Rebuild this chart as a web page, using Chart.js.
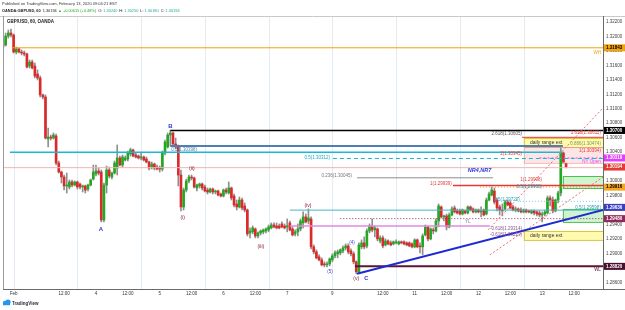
<!DOCTYPE html>
<html><head><meta charset="utf-8">
<script src="https://cdn.jsdelivr.net/npm/chart.js@4.4.1/dist/chart.umd.min.js"></script>
<style>html,body{margin:0;padding:0;background:#fff;overflow:hidden}#wrap{width:625px;height:310px;position:relative}</style>
</head><body><div id="wrap"><canvas id="c" width="625" height="310"></canvas></div>
<script>
// ---- data: hourly GBP/USD candles, bar index 0 = Feb 2 17:00 EST ----
const firstBar = -4;
const opens = [1.31951,1.31882,1.32006,1.32048,1.32020,1.31785,1.31827,1.31785,1.31771,1.31758,1.31591,1.31646,1.31591,1.31481,
1.31426,1.31191,1.31163,1.30582,1.30609,1.30595,1.30623,1.30250,1.30125,1.30056,
1.29932,1.29918,1.29987,1.29945,1.29987,1.29959,1.29918,1.29932,1.29890,1.29945,
1.30028,1.30097,1.30139,1.30125,1.29462,1.29945,1.30153,1.30056,1.30111,1.30180,
1.30319,1.30222,1.30291,1.30305,1.30375,1.30430,1.30361,1.30347,1.30319,1.30333,
1.30305,1.30264,1.30194,1.30236,1.30194,1.30180,1.30166,1.30388,1.30471,1.30637,
1.30665,1.30513,1.30471,1.30084,1.29642,1.29876,1.30001,1.30056,1.30042,1.29904,
1.29932,1.29959,1.29918,1.29876,1.29849,1.29890,1.29849,1.29863,1.29821,1.29794,
1.29876,1.29835,1.29904,1.29794,1.29683,1.29642,1.29738,1.29656,1.29600,1.29283,
1.29297,1.29338,1.29241,1.29283,1.29297,1.29310,1.29324,1.29352,1.29393,1.29379,
1.29379,1.29407,1.29379,1.29366,1.29421,1.29338,1.29269,1.29297,1.29338,1.29421,
1.29504,1.29448,1.29476,1.29090,1.29021,1.28952,1.28910,1.28855,1.28841,1.28855,
1.28910,1.28965,1.28993,1.29007,1.29034,1.29076,1.29103,1.29034,1.28993,1.28883,
1.28745,1.29090,1.29145,1.29103,1.29310,1.29379,1.29324,1.29338,1.29172,1.29214,
1.29117,1.29172,1.29145,1.29131,1.29145,1.29131,1.29159,1.29159,1.29145,1.29145,
1.29131,1.29090,1.29186,1.29103,1.29090,1.29255,1.29366,1.29200,1.29324,1.29310,
1.29448,1.29642,1.29504,1.29518,1.29366,1.29531,1.29628,1.29587,1.29587,1.29545,
1.29587,1.29559,1.29642,1.29614,1.29573,1.29600,1.29573,1.29600,1.29545,1.29738,
1.29807,1.29863,1.29738,1.29642,1.29600,1.29614,1.29711,1.29697,1.29642,1.29600,
1.29614,1.29600,1.29573,1.29600,1.29587,1.29559,1.29587,1.29573,1.29559,1.29531,
1.29545,1.29559,1.29766,1.29738,1.29587,1.29738,1.29835,1.30388,1.30240];
const highs = [1.31978,1.32048,1.32089,1.32103,1.32034,1.31854,1.31840,1.31813,1.31799,1.31771,1.31674,1.31674,1.31633,1.31536,
1.31453,1.31204,1.31191,1.30734,1.30637,1.30665,1.30651,1.30277,1.30139,1.30084,
1.30111,1.30015,1.30015,1.30001,1.30001,1.29973,1.29945,1.29945,1.29959,1.30028,
1.30222,1.30222,1.30180,1.30153,1.29973,1.30208,1.30194,1.30125,1.30277,1.30499,
1.30347,1.30361,1.30347,1.30416,1.30457,1.30444,1.30388,1.30361,1.30388,1.30347,
1.30333,1.30277,1.30264,1.30250,1.30222,1.30208,1.30416,1.30568,1.30665,1.30700,
1.30678,1.30595,1.30499,1.30153,1.29904,1.30028,1.30084,1.30084,1.30056,1.29959,
1.29973,1.29973,1.29945,1.29904,1.29904,1.29904,1.29876,1.29876,1.29835,1.29890,
1.29904,1.29987,1.29918,1.29821,1.29738,1.29780,1.29766,1.29697,1.29614,1.29352,
1.29379,1.29352,1.29297,1.29324,1.29338,1.29352,1.29393,1.29421,1.29421,1.29421,
1.29407,1.29435,1.29407,1.29476,1.29448,1.29366,1.29324,1.29407,1.29476,1.29573,
1.29545,1.29614,1.29504,1.29117,1.29048,1.28979,1.28938,1.28883,1.28883,1.28938,
1.28993,1.29034,1.29048,1.29062,1.29103,1.29131,1.29131,1.29062,1.29021,1.28896,
1.29145,1.29186,1.29228,1.29338,1.29407,1.29476,1.29379,1.29352,1.29241,1.29241,
1.29200,1.29186,1.29172,1.29172,1.29186,1.29172,1.29172,1.29172,1.29159,1.29159,
1.29145,1.29200,1.29200,1.29145,1.29269,1.29393,1.29379,1.29352,1.29352,1.29476,
1.29683,1.29656,1.29531,1.29545,1.29559,1.29642,1.29656,1.29614,1.29614,1.29614,
1.29600,1.29656,1.29656,1.29628,1.29614,1.29614,1.29642,1.29614,1.29766,1.29849,
1.29918,1.29904,1.29766,1.29669,1.29683,1.29738,1.29738,1.29725,1.29669,1.29642,
1.29628,1.29628,1.29614,1.29614,1.29600,1.29600,1.29600,1.29587,1.29587,1.29573,
1.29600,1.29794,1.29794,1.29780,1.29752,1.29863,1.30457,1.30402,1.30250];
const lows = [1.31840,1.31868,1.31978,1.31992,1.31771,1.31758,1.31771,1.31744,1.31730,1.31564,1.31564,1.31550,1.31426,1.31398,
1.31163,1.31135,1.30582,1.30471,1.30568,1.30582,1.30222,1.30111,1.29973,1.29876,
1.29835,1.29890,1.29918,1.29932,1.29890,1.29890,1.29849,1.29835,1.29863,1.29932,
1.30015,1.30070,1.30084,1.29435,1.29435,1.29835,1.30042,1.30028,1.30097,1.30084,
1.30208,1.30194,1.30277,1.30277,1.30347,1.30333,1.30319,1.30305,1.30291,1.30277,
1.30250,1.30153,1.30166,1.30153,1.30153,1.30125,1.30139,1.30361,1.30457,1.30485,
1.30485,1.30444,1.29932,1.29587,1.29600,1.29849,1.29973,1.30015,1.29904,1.29863,
1.29904,1.29876,1.29849,1.29821,1.29835,1.29821,1.29821,1.29794,1.29780,1.29780,
1.29821,1.29821,1.29738,1.29642,1.29600,1.29628,1.29600,1.29573,1.29241,1.29214,
1.29269,1.29214,1.29214,1.29255,1.29269,1.29283,1.29297,1.29338,1.29352,1.29338,
1.29338,1.29352,1.29338,1.29297,1.29310,1.29241,1.29241,1.29241,1.29310,1.29352,
1.29421,1.29407,1.29062,1.28993,1.28924,1.28896,1.28827,1.28814,1.28814,1.28827,
1.28883,1.28938,1.28938,1.28979,1.29007,1.29048,1.28993,1.28965,1.28855,1.28717,
1.28731,1.29062,1.29062,1.29076,1.29283,1.29297,1.29228,1.29172,1.29145,1.29076,
1.29103,1.29117,1.29103,1.29117,1.29131,1.29117,1.29131,1.29117,1.29103,1.29090,
1.29076,1.29076,1.29076,1.29007,1.28979,1.29241,1.29172,1.29186,1.29269,1.29297,
1.29366,1.29490,1.29448,1.29324,1.29352,1.29518,1.29559,1.29545,1.29531,1.29531,
1.29545,1.29545,1.29587,1.29559,1.29559,1.29559,1.29504,1.29518,1.29531,1.29725,
1.29794,1.29683,1.29587,1.29531,1.29518,1.29600,1.29656,1.29614,1.29587,1.29573,
1.29573,1.29559,1.29559,1.29559,1.29559,1.29545,1.29531,1.29518,1.29504,1.29435,
1.29518,1.29545,1.29656,1.29559,1.29573,1.29697,1.29794,1.30250,1.30180];
const closes = [1.31854,1.32006,1.32048,1.32020,1.31785,1.31827,1.31785,1.31771,1.31758,1.31577,1.31646,1.31564,1.31453,1.31426,
1.31191,1.31163,1.30595,1.30609,1.30595,1.30637,1.30250,1.30125,1.30056,1.29932,
1.29945,1.29987,1.29945,1.29987,1.29918,1.29918,1.29932,1.29876,1.29945,1.30015,
1.30125,1.30139,1.30111,1.29462,1.29945,1.30153,1.30070,1.30111,1.30250,1.30319,
1.30222,1.30333,1.30319,1.30388,1.30430,1.30347,1.30333,1.30319,1.30333,1.30291,
1.30264,1.30180,1.30236,1.30180,1.30166,1.30166,1.30388,1.30540,1.30637,1.30665,
1.30513,1.30471,1.30084,1.29642,1.29876,1.30001,1.30056,1.30042,1.29918,1.29945,
1.29959,1.29904,1.29863,1.29849,1.29890,1.29849,1.29863,1.29807,1.29794,1.29876,
1.29849,1.29904,1.29766,1.29669,1.29642,1.29738,1.29628,1.29600,1.29269,1.29310,
1.29352,1.29241,1.29283,1.29310,1.29324,1.29338,1.29366,1.29393,1.29366,1.29352,
1.29352,1.29366,1.29352,1.29379,1.29324,1.29255,1.29297,1.29338,1.29448,1.29504,
1.29435,1.29490,1.29090,1.29021,1.28938,1.28910,1.28841,1.28841,1.28855,1.28924,
1.28965,1.29007,1.29021,1.29048,1.29076,1.29103,1.29021,1.28993,1.28883,1.28745,
1.29117,1.29145,1.29090,1.29310,1.29379,1.29324,1.29352,1.29200,1.29214,1.29103,
1.29172,1.29131,1.29117,1.29159,1.29159,1.29159,1.29145,1.29131,1.29117,1.29103,
1.29090,1.29186,1.29090,1.29090,1.29241,1.29366,1.29200,1.29338,1.29310,1.29448,
1.29656,1.29504,1.29518,1.29366,1.29531,1.29614,1.29573,1.29559,1.29545,1.29600,
1.29559,1.29642,1.29600,1.29573,1.29600,1.29573,1.29587,1.29531,1.29738,1.29821,
1.29876,1.29711,1.29628,1.29600,1.29587,1.29711,1.29669,1.29628,1.29600,1.29614,
1.29587,1.29573,1.29600,1.29573,1.29573,1.29587,1.29559,1.29545,1.29531,1.29545,
1.29573,1.29766,1.29738,1.29587,1.29738,1.29835,1.30388,1.30264,1.30194];

// axis ticks
const xTickIdx = [0,19,31,43,55,67,79,91,103,120,139,151,163,175,187,199,211];
const xTickLabels = ['Feb','12:00','4','12:00','5','12:00','6','12:00','7','9','12:00','11','12:00','12','12:00','13','12:00'];
const sessionGridIdx = [0,24,48,72,96,120,144,168,192];
const priceTicks = [1.286,1.288,1.290,1.292,1.294,1.296,1.298,1.300,1.302,1.304,1.306,1.308,1.310,1.312,1.314,1.316,1.318,1.320,1.322];

// horizontal levels drawn on the chart (price, from bar, to bar)
const levelPrice = [1.31843,1.30700,1.30485,1.30398,1.30312,1.30319,1.30185,1.30045,1.29939,1.29916,1.29720,1.29598,1.29480,1.29380,1.28820,1.30605];
const levelFrom  = [-0.6,59,59,-1.4,120.2,198,-4,129.3,165.4,175.6,190.6,104,123,104,128.5,191.4];
const levelTo    = [222,222,206.8,206.8,222,222,222,180.5,222,222,222,222,222,179.3,222,222];

// trend lines (from bar, from price, to bar, to price)
const trendFromIdx = [129.3,178.6,179.3];
const trendFromPrice = [1.28717,1.29324,1.28979];
const trendToIdx = [222,221.9,221.9];
const trendToPrice = [1.29600,1.31011,1.30056];

// zones (from bar, to bar, top price, bottom price)
const zoneFrom = [192.1,192.1,206.8,206.8,192.1];
const zoneTo = [222,222,222,222,222];
const zoneTop = [1.30595,1.30471,1.30070,1.29614,1.29310];
const zoneBottom = [1.30471,1.30250,1.29904,1.29435,1.29186];

// text notes (text, bar, price)
const noteText = ['B','A','(i)','(ii)','(iii)','(iv)','(5)','(4)','(v)','C','NR4,NR7','0.5(1.30398)','0.5(1.30312)','0.236(1.30045)','1(1.29939)','2.618(1.30605)','1.618(1.30611)','0.886(1.30474)','2(1.30345)','1(1.30394)','NY Open','1(1.29998)','0.5(1.29908)','0.5(1.29720)','0.5(1.29598)','YL','-0.618(1.29314)','-0.618(1.29229)','daily range ext','daily range ext','WH','WL'];
const noteIdx = [59.0,32.9,63.7,67.1,93.1,110.8,119.1,127.4,129.0,132.8,175.4,69.0,119.1,127.4,165.0,191.4,221.1,221.1,191.4,221.1,221.1,198.9,198.9,190.6,221.1,169.9,191.4,191.4,194.4,194.4,221.1,221.1];
const notePrice = [1.30762,1.29338,1.29490,1.30166,1.29090,1.29656,1.28745,1.29145,1.28646,1.28646,1.30153,1.30430,1.30319,1.30070,1.29959,1.30651,1.30665,1.30513,1.30375,1.30416,1.30264,1.30015,1.29918,1.29738,1.29628,1.29435,1.29338,1.29255,1.30533,1.29241,1.31771,1.28772];

// right-axis price labels
const axisLabelPrice = [1.31843,1.30700,1.30319,1.30194,1.29916,1.29636,1.29480,1.28820];

// ---- styles ----
const levelColor = ['#f0a30a','#000000','#4f7fae','#1ab8d4','#19b7d2','#e040fb','#f5b3b3','#8c8c8c','#e53935','#f5a623','#70cde3','#47b5c9','#8e2a5a','#e08ae0','#5c1533','#e53935'];
const levelWidth = [1,1.5,2,1.5,1,1,1,1,1.5,1,1,1,1,1.5,2,1];
const levelDash = [[],[],[],[],[4,3],[2,2],[],[],[],[1,2],[1,2],[],[1,2],[],[],[]];
const trendColor = ['#1f2bd0','#ef6b6b','#ef6b6b'];
const trendWidth = [2,1,1];
const trendDash = [[],[2,2],[2,2]];
const zoneFill = ['rgba(255,246,120,0.6)','rgba(248,170,170,0.3)','rgba(120,220,120,0.35)','rgba(120,220,120,0.35)','rgba(255,246,120,0.6)'];
const zoneStroke = ['#d9c440','rgba(240,150,150,0.6)','#4cc04c','#4cc04c','#d9c440'];
const noteColor = ['#2b39c9','#2b39c9','#8b1c2c','#8b1c2c','#8b1c2c','#8b1c2c','#3b44c8','#3b44c8','#8b1c2c','#2b39c9','#2438d8','#4f7fae','#19a9c4','#777','#e53935','#555','#e53935','#7a9a60','#e53935','#e53935','#e040fb','#e53935','#3a8fb0','#19a9c4','#2f9fb8','#777','#8a4f8a','#8a4f8a','#333','#333','#f0a30a','#5c1533'];
const noteFont = ['bold 6px','bold 6px','5px','5px','5px','5px','4.5px','4.5px','5px','bold 5.5px','italic bold 5.5px','4.5px','4.5px','4.5px','4.5px','4.5px','4.5px','4.5px','4.5px','4.5px','4.5px','4.5px','4.5px','4.5px','4.5px','4.5px','4.5px','4.5px','5px','5px','4.5px','4.5px'];
const noteAlign = ['center','center','center','center','center','center','center','center','center','center','center','right','right','right','right','right','right','right','right','right','right','right','right','right','right','left','right','right','left','left','right','right'];
const axisLabelBg = ['#f0a30a','#000000','#e040fb','#e53935','#f5a623','#3a3fc0','#8e2a5a','#4a1030'];
const axisLabelFg = ['#000','#fff','#fff','#fff','#000','#fff','#fff','#fff'];
const FONT = '"Liberation Sans", Arial, sans-serif';

const barIdx = opens.map((_, k) => firstBar + k);
const up = barIdx.map((_, k) => closes[k] >= opens[k]);

const datasets = [];
levelPrice.forEach((p, k) => datasets.push({
  type: 'line', data: [{x: levelFrom[k], y: p}, {x: levelTo[k], y: p}],
  borderColor: levelColor[k], borderWidth: levelWidth[k], borderDash: levelDash[k],
  pointRadius: 0, order: 1
}));
trendFromIdx.forEach((a, k) => datasets.push({
  type: 'line', data: [{x: a, y: trendFromPrice[k]}, {x: trendToIdx[k], y: trendToPrice[k]}],
  borderColor: trendColor[k], borderWidth: trendWidth[k], borderDash: trendDash[k],
  pointRadius: 0, order: 0
}));
datasets.push({
  type: 'bar', data: barIdx.map((x, k) => ({x, y: [lows[k], highs[k]]})),
  backgroundColor: '#8f8f8f', barThickness: 1, grouped: false, order: 6
});
datasets.push({
  type: 'bar', data: barIdx.map((x, k) => ({x, y: [opens[k], closes[k]]})),
  backgroundColor: up.map(u => u ? '#22a822' : '#dc2a2a'), barThickness: 2,
  minBarLength: 1, grouped: false, order: 5
});

const deco = {
  id: 'deco',
  beforeDatasetsDraw(chart) {
    const {ctx, chartArea: a, scales: {x, y}} = chart;
    ctx.save();
    ctx.strokeStyle = '#e2eaf4'; ctx.lineWidth = 1;
    sessionGridIdx.forEach(g => {
      const gx = Math.round(x.getPixelForValue(g)) + 0.5;
      ctx.beginPath(); ctx.moveTo(gx, a.top); ctx.lineTo(gx, a.bottom); ctx.stroke();
    });
    ctx.beginPath(); ctx.rect(a.left, a.top, a.right - a.left, a.bottom - a.top); ctx.clip();
    zoneFrom.forEach((f, k) => {
      const x0 = x.getPixelForValue(f), x1 = x.getPixelForValue(zoneTo[k]);
      const y0 = y.getPixelForValue(zoneTop[k]), y1 = y.getPixelForValue(zoneBottom[k]);
      ctx.fillStyle = zoneFill[k]; ctx.fillRect(x0, y0, x1 - x0, y1 - y0);
      ctx.strokeStyle = zoneStroke[k]; ctx.lineWidth = 1; ctx.strokeRect(x0 + 0.5, y0 + 0.5, x1 - x0, y1 - y0);
    });
    ctx.restore();
  },
  afterDatasetsDraw(chart) {
    const {ctx, scales: {x, y}} = chart;
    ctx.save();
    ctx.textBaseline = 'middle';
    noteText.forEach((t, k) => {
      ctx.font = noteFont[k] + ' ' + FONT;
      ctx.fillStyle = noteColor[k];
      ctx.textAlign = noteAlign[k];
      ctx.fillText(t, x.getPixelForValue(noteIdx[k]), y.getPixelForValue(notePrice[k]));
    });
    ctx.restore();
  },
  afterDraw(chart) {
    const {ctx, chartArea: a, scales: {y}} = chart;
    ctx.save();
    // frame
    ctx.strokeStyle = '#c9c9c9'; ctx.lineWidth = 1;
    ctx.beginPath(); ctx.moveTo(0, a.top + 0.5); ctx.lineTo(625, a.top + 0.5); ctx.stroke();
    ctx.strokeStyle = '#9a9a9a';
    ctx.beginPath(); ctx.moveTo(a.left + 0.5, a.top); ctx.lineTo(a.left + 0.5, a.bottom); ctx.stroke();
    ctx.strokeStyle = '#6a6a6a';
    ctx.beginPath(); ctx.moveTo(a.right + 0.5, a.top); ctx.lineTo(a.right + 0.5, a.bottom + 1); ctx.stroke();
    ctx.beginPath(); ctx.moveTo(a.left, a.bottom + 0.5); ctx.lineTo(625, a.bottom + 0.5); ctx.stroke();
    // right axis price labels
    ctx.textBaseline = 'middle'; ctx.textAlign = 'left';
    ctx.font = 'bold 4.5px ' + FONT;
    axisLabelPrice.forEach((p, k) => {
      const yy = y.getPixelForValue(p);
      ctx.fillStyle = axisLabelBg[k]; ctx.fillRect(a.right + 1, yy - 3.5, 21, 7);
      ctx.fillStyle = axisLabelFg[k]; ctx.fillText(p.toFixed(5), a.right + 3, yy);
    });
    // header
    ctx.textAlign = 'left';
    ctx.fillStyle = '#333'; ctx.font = '4px ' + FONT;
    ctx.fillText('Published on TradingView.com, February 13, 2020 09:04:21 EST', 2, 4);
    const segs = [['OANDA:GBPUSD, 60', '#222', 'bold 3.9px', 2], ['1.30194', '#222', '3.9px', 2], ['▲ +0.00615 (+0.48%)', '#22a822', '3.9px', 1.2],
      ['O:', '#222', '3.9px', 2], ['1.30240', '#26a69a', '3.9px', 1], ['H:', '#222', '3.9px', 2], ['1.30250', '#26a69a', '3.9px', 1],
      ['L:', '#222', '3.9px', 2], ['1.30180', '#26a69a', '3.9px', 1], ['C:', '#222', '3.9px', 2], ['1.30194', '#26a69a', '3.9px', 1]];
    let hx = 2;
    segs.forEach((s, k) => {
      if (k > 0) hx += s[3];
      ctx.font = s[2] + ' ' + FONT; ctx.fillStyle = s[1]; ctx.fillText(s[0], hx, 11);
      hx += ctx.measureText(s[0]).width;
    });
    ctx.font = 'bold 4.5px ' + FONT; ctx.fillStyle = '#222';
    ctx.fillText('GBP/USD, 60, OANDA', 7, 21.5);
    // logo
    ctx.fillStyle = '#2196f3';
    ctx.beginPath(); ctx.arc(5, 303, 2.2, 0, Math.PI * 2); ctx.arc(8, 302, 2.6, 0, Math.PI * 2); ctx.fill();
    ctx.fillRect(3, 303, 7, 2.2);
    ctx.fillStyle = '#2a2e39'; ctx.font = 'bold 4.5px ' + FONT;
    ctx.fillText('TradingView', 12, 303.5);
    ctx.restore();
  }
};

new Chart(document.getElementById('c'), {
  type: 'bar',
  data: {datasets},
  options: {
    responsive: false, animation: false, devicePixelRatio: 1,
    layout: {padding: {top: 16, left: 3, right: 0, bottom: 0}},
    plugins: {legend: {display: false}, tooltip: {enabled: false}},
    scales: {
      x: {
        type: 'linear', min: -4.0, max: 221.9, offset: false,
        grid: {display: false, drawTicks: false}, border: {display: false},
        afterBuildTicks: s => { s.ticks = xTickIdx.map(v => ({value: v})); },
        afterFit: s => { s.height = 21; },
        ticks: {autoSkip: false, maxRotation: 0, padding: 2, color: '#333',
          font: {size: 4.5, family: FONT}, callback: (v, i) => xTickLabels[i]}
      },
      y: {
        type: 'linear', position: 'right', min: 1.28507, max: 1.32283,
        grid: {display: false, drawTicks: false}, border: {display: false},
        afterBuildTicks: s => { s.ticks = priceTicks.map(v => ({value: v})); },
        afterFit: s => { s.width = 22; },
        ticks: {padding: 3, color: '#444', font: {size: 4.5, family: FONT}, callback: v => v.toFixed(5)}
      }
    }
  },
  plugins: [deco]
});
</script></body></html>
